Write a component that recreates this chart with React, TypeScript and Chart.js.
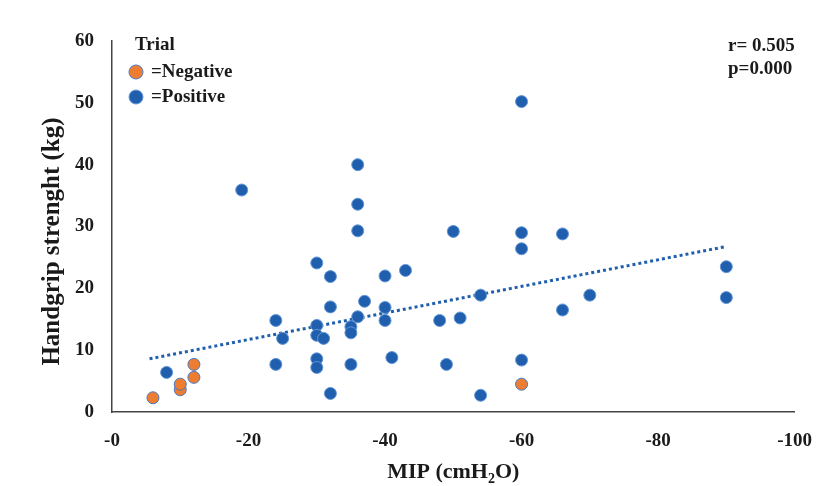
import { useEffect, useRef } from 'react';
import { Chart, registerables } from 'chart.js';

Chart.register(...registerables);

// Trial = Negative
const negativeX = [-6, -10, -10, -12, -12, -60];
const negativeY = [2.3, 3.6, 4.5, 5.6, 7.7, 4.5];

// Trial = Positive
const positiveX = [
  -19, -36, -36, -36, -30, -32, -40, -43, -32, -37, -40, -36, -40, -24, -25,
  -30, -30, -31, -35, -35, -48, -24, -30, -30, -35, -41, -49, -32, -8, -50,
  -60, -66, -60, -90, -90, -70, -54, -66, -51, -60, -54, -60,
];
const positiveY = [
  35.9, 40.0, 33.6, 29.3, 24.1, 21.9, 22.0, 22.9, 17.0, 17.9, 16.9, 15.4, 14.8, 14.8, 11.9,
  14.0, 12.4, 11.9, 13.8, 12.8, 14.8, 7.7, 8.6, 7.2, 7.7, 8.8, 7.7, 3.0, 6.4, 29.2,
  29.0, 28.8, 26.4, 23.5, 18.5, 18.9, 18.9, 16.5, 15.2, 8.4, 2.7, 50.2,
];

// Linear trendline endpoints
const trendX = [-5.5, -89.7];
const trendY = [8.6, 26.7];

const xTickValues = [0, -20, -40, -60, -80, -100];
const xTickLabels = ['-0', '-20', '-40', '-60', '-80', '-100'];
const yTickValues = [0, 10, 20, 30, 40, 50, 60];

const legendTitle = 'Trial';
const legendLabels = ['=Negative', '=Positive'];
const statLines = ['r= 0.505', 'p=0.000'];
const yTitle = 'Handgrip strenght (kg)';
const xTitleParts = ['MIP (cmH', '2', 'O)'];

const BLUE = '#1F5FAD';
const BLUE_EDGE = '#6496d6';
const ORANGE = '#ED7D31';
const ORANGE_EDGE = '#4a78c0';
const TEXT = '#1a1a1a';
const FONT = '"Liberation Serif", "Times New Roman", serif';

const toPoints = (xs: number[], ys: number[]) => xs.map((x, i) => ({ x, y: ys[i] }));

const annotations = {
  id: 'annotations',
  afterDraw(chart: any) {
    const ctx = chart.ctx as CanvasRenderingContext2D;
    const area = chart.chartArea;
    ctx.save();
    ctx.fillStyle = TEXT;

    // Y axis title
    ctx.save();
    ctx.translate(53, (area.top + area.bottom) / 2 + 15);
    ctx.rotate(-Math.PI / 2);
    ctx.font = `bold 25px ${FONT}`;
    ctx.textAlign = 'center';
    ctx.textBaseline = 'middle';
    ctx.fillText(yTitle, 0, 0);
    ctx.restore();

    // X axis title with subscript
    const mainFont = `bold 22px ${FONT}`;
    const subFont = `bold 14px ${FONT}`;
    ctx.font = mainFont;
    const w1 = ctx.measureText(xTitleParts[0]).width;
    const w3 = ctx.measureText(xTitleParts[2]).width;
    ctx.font = subFont;
    const w2 = ctx.measureText(xTitleParts[1]).width;
    const total = w1 + w2 + w3;
    let cx = (area.left + area.right) / 2 - total / 2;
    const base = 478;
    ctx.textAlign = 'left';
    ctx.textBaseline = 'alphabetic';
    ctx.font = mainFont;
    ctx.fillText(xTitleParts[0], cx, base);
    cx += w1;
    ctx.font = subFont;
    ctx.fillText(xTitleParts[1], cx, base + 5);
    cx += w2;
    ctx.font = mainFont;
    ctx.fillText(xTitleParts[2], cx, base);

    // Legend
    ctx.font = `bold 19px ${FONT}`;
    ctx.textBaseline = 'middle';
    ctx.fillText(legendTitle, 135, 45);
    const legendY = [72, 97];
    const fills = [ORANGE, BLUE];
    const edges = [ORANGE_EDGE, BLUE_EDGE];
    legendLabels.forEach((label, i) => {
      ctx.beginPath();
      ctx.arc(136, legendY[i], 7, 0, Math.PI * 2);
      ctx.fillStyle = fills[i];
      ctx.fill();
      ctx.lineWidth = 1;
      ctx.strokeStyle = edges[i];
      ctx.stroke();
      ctx.fillStyle = TEXT;
      ctx.fillText(label, 151, legendY[i]);
    });

    // Statistics
    const statY = [46, 69];
    statLines.forEach((s, i) => ctx.fillText(s, 728, statY[i]));

    ctx.restore();
  },
};

export default function App() {
  const canvasRef = useRef<HTMLCanvasElement | null>(null);

  useEffect(() => {
    if (!canvasRef.current) return;
    const tickFont = { family: FONT, size: 19, weight: 'bold' as const };
    const chart = new Chart(canvasRef.current, {
      type: 'scatter',
      data: {
        datasets: [
          {
            label: 'Negative',
            data: toPoints(negativeX, negativeY),
            backgroundColor: ORANGE,
            borderColor: ORANGE_EDGE,
            borderWidth: 1,
            pointRadius: 6,
          },
          {
            label: 'Positive',
            data: toPoints(positiveX, positiveY),
            backgroundColor: BLUE,
            borderColor: BLUE_EDGE,
            borderWidth: 1,
            pointRadius: 6,
          },
          {
            label: 'Linear (Positive)',
            data: toPoints(trendX, trendY),
            showLine: true,
            borderColor: BLUE,
            borderWidth: 3,
            borderDash: [3, 3],
            pointRadius: 0,
            fill: false,
          },
        ],
      },
      options: {
        animation: false,
        responsive: true,
        maintainAspectRatio: false,
        layout: { padding: { left: 0, right: 35, top: 41, bottom: 0 } },
        plugins: {
          legend: { display: false },
          tooltip: { enabled: false },
        },
        scales: {
          x: {
            type: 'linear',
            min: -100,
            max: 0,
            reverse: true,
            afterBuildTicks: (scale: any) => {
              scale.ticks = xTickValues.map((v) => ({ value: v }));
            },
            ticks: {
              font: tickFont,
              color: TEXT,
              padding: 18,
              maxRotation: 0,
              callback: (v: any) => {
                const i = xTickValues.indexOf(Number(v));
                return i >= 0 ? xTickLabels[i] : String(v);
              },
            },
            grid: { display: false, drawTicks: false },
            border: { display: true, color: '#444444', width: 1.5 },
            afterFit: (scale: any) => {
              scale.height = 74;
            },
          },
          y: {
            type: 'linear',
            min: 0,
            max: 60,
            afterBuildTicks: (scale: any) => {
              scale.ticks = yTickValues.map((v) => ({ value: v }));
            },
            ticks: {
              font: tickFont,
              color: TEXT,
              padding: 18,
            },
            grid: { display: false, drawTicks: false },
            border: { display: true, color: '#444444', width: 1.5 },
            afterFit: (scale: any) => {
              scale.width = 112;
            },
          },
        },
      },
      plugins: [annotations],
    });
    return () => chart.destroy();
  }, []);

  return (
    <div style={{ position: 'fixed', left: 0, top: 0, width: 830, height: 486, background: '#ffffff' }}>
      <canvas ref={canvasRef} />
    </div>
  );
}
